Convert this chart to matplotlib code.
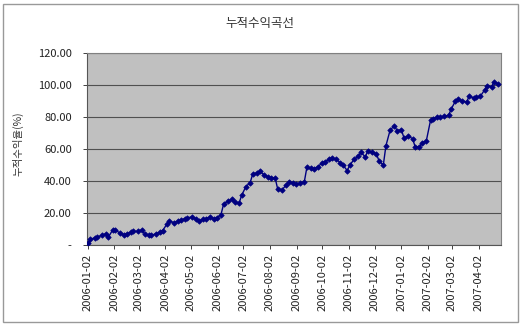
import matplotlib
matplotlib.use('Agg')
import matplotlib.dates as mdates
import matplotlib.pyplot as plt
import matplotlib.ticker as mticker
import pandas as pd

plt.rcParams['font.family'] = ['Noto Sans CJK KR', 'DejaVu Sans']

# cumulative return (%), read every 3rd trading day from 2006-01-02
cum_ret = [
    1.0, 3.5, 4.5, 5.0, 6.0, 7.0, 5.0, 9.5, 9.5, 7.5,
    6.5, 7.0, 8.0, 8.5, 8.5, 9.5, 7.0, 6.0, 6.0, 7.0,
    8.0, 9.0, 13.0, 15.0, 14.0, 15.0, 15.5, 16.5, 17.0, 17.5,
    16.5, 15.0, 16.0, 16.5, 17.5, 16.5, 17.0, 19.0, 25.5, 27.5,
    28.5, 27.0, 26.0, 31.0, 36.5, 39.0, 44.5, 45.0, 46.0, 44.0,
    42.5, 42.0, 42.0, 35.0, 34.5, 37.5, 39.5, 38.5, 38.0, 38.5,
    39.5, 48.5, 48.0, 47.5, 49.0, 51.5, 52.0, 53.5, 54.5, 53.5,
    51.5, 50.0, 46.5, 50.0, 53.5, 55.5, 58.0, 55.0, 59.0, 58.0,
    57.0, 52.5, 50.0, 62.0, 72.0, 74.5, 71.5, 72.0, 67.0, 68.0,
    66.5, 61.5, 61.0, 64.0, 65.0, 78.0, 79.0, 80.0, 80.0, 80.5,
    81.0, 85.0, 90.0, 91.0, 90.0, 89.5, 93.0, 92.0, 92.5, 93.0,
    97.0, 99.5, 99.0, 102.0, 100.8,
]
dates = pd.bdate_range(start='2006-01-02', periods=len(cum_ret), freq='3B')

tick_dates = pd.date_range('2006-01-01', '2007-04-01', freq='MS') + pd.Timedelta(days=1)
y_ticks = [0, 20, 40, 60, 80, 100, 120]

title = '누적수익곡선'
y_label = '누적수익율(%)'

fig = plt.figure(figsize=(5.2, 3.26), dpi=100)
ax = fig.add_axes([87 / 520, 1 - 245 / 326, 414 / 520, 192 / 326])
ax.set_facecolor('#c0c0c0')

ax.plot(dates, cum_ret, color='#000080', lw=1.0, marker='D', ms=2.8,
        markeredgewidth=0.5, zorder=3)

ax.set_ylim(0, 120)
ax.set_yticks(y_ticks)
ax.yaxis.set_major_formatter(mticker.FuncFormatter(
    lambda v, p: '-' if v == 0 else '%.2f' % v))
ax.grid(axis='y', color='#505050', lw=0.8)
ax.set_axisbelow(True)

ax.set_xlim(pd.Timestamp('2006-01-01'), pd.Timestamp('2007-04-28'))
ax.set_xticks(tick_dates)
ax.xaxis.set_major_formatter(mdates.DateFormatter('%Y-%m-%d'))
for lbl in ax.get_xticklabels():
    lbl.set_rotation(90)

ax.tick_params(axis='both', labelsize=8, colors='#222222', length=3, width=0.6)
ax.tick_params(axis='y', length=3, pad=8)
for side in ['top', 'right']:
    ax.spines[side].set_color('#808080')
for side in ['left', 'bottom']:
    ax.spines[side].set_color('#555555')

fig.text(260 / 520, 1 - 23 / 326, title, ha='center', va='center', fontsize=9, color='#333333')
fig.text(18 / 520, 1 - 144 / 326, y_label, ha='center', va='center', rotation=90,
         fontsize=7.5, color='#333333')

# chart border
fig.patches.append(plt.Rectangle((2.5 / 520, 4 / 326), 515 / 520, 318 / 326, transform=fig.transFigure,
                                 fill=False, edgecolor='#999999', lw=1.0))

fig.savefig('out.png', dpi=100)
